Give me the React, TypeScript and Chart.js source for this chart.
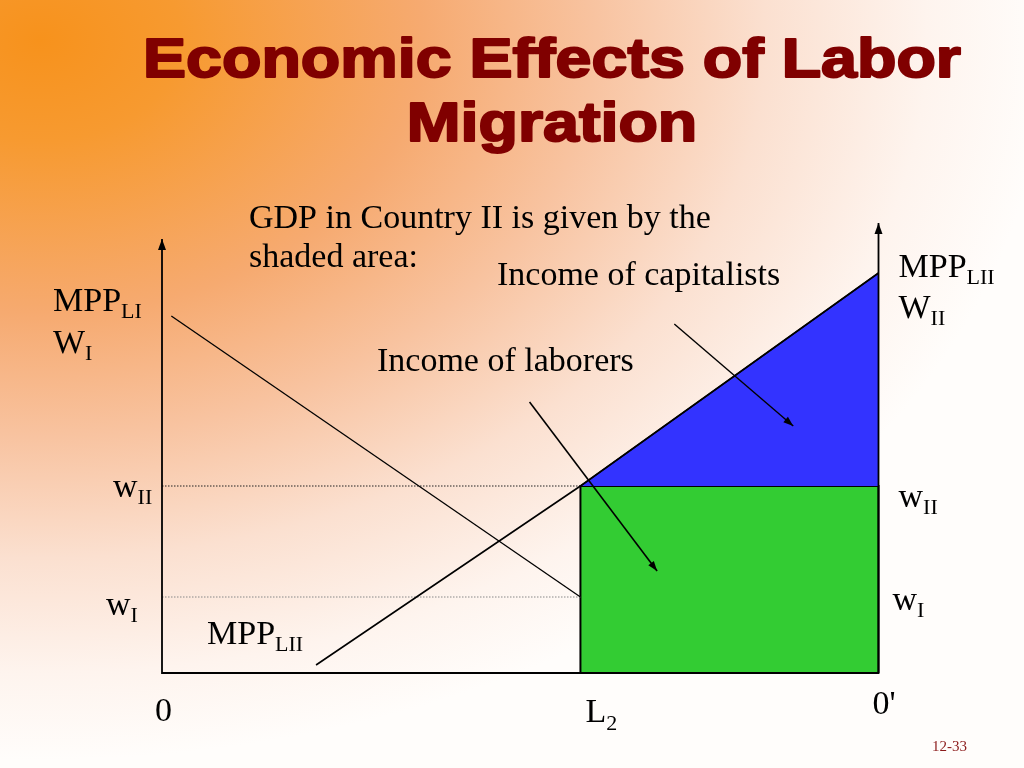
import React, { useEffect, useRef } from "react";
import { Chart, registerables } from "chart.js";

Chart.register(...registerables);

// ---- data (labor on x: 0 .. 0', wage / MPP on y) ----
const L2 = 58.4;
const wII = 46.75;
const wI = 19;
const mppLIx = [1.3, 58.4];
const mppLIy = [89.25, 19];
const mppLIIx = [21.5, 58.4, 100];
const mppLIIy = [2, 46.75, 100];
const axisTopLeft = 108.5;
const axisTopRight = 112.5;
const capArrowX = [71.5, 88.1];
const capArrowY = [87.25, 61.75];
const labArrowX = [51.3, 69.1];
const labArrowY = [67.75, 25.5];

const titleLines = ["Economic Effects of Labor", "Migration"];
const noteLines = ["GDP in Country II is given by the", "shaded area:"];
const capLabel = "Income of capitalists";
const labLabel = "Income of laborers";
const slideNo = "12-33";

const pts = (xs: number[], ys: number[]) => xs.map((x, i) => ({ x, y: ys[i] }));

const SERIF = '"Liberation Serif", "Times New Roman", serif';

function subText(ctx: CanvasRenderingContext2D, x: number, y: number, main: string, s: string, size = 34, subSize = 22, dy = 7) {
  ctx.font = `${size}px ${SERIF}`;
  ctx.fillText(main, x, y);
  const w = ctx.measureText(main).width;
  if (s) {
    ctx.font = `${subSize}px ${SERIF}`;
    ctx.fillText(s, x + w, y + dy);
  }
}

function arrowHead(ctx: CanvasRenderingContext2D, x0: number, y0: number, x1: number, y1: number, len = 11, half = 4) {
  const a = Math.atan2(y1 - y0, x1 - x0);
  ctx.beginPath();
  ctx.moveTo(x1, y1);
  ctx.lineTo(x1 - len * Math.cos(a) + half * Math.sin(a), y1 - len * Math.sin(a) - half * Math.cos(a));
  ctx.lineTo(x1 - len * Math.cos(a) - half * Math.sin(a), y1 - len * Math.sin(a) + half * Math.cos(a));
  ctx.closePath();
  ctx.fill();
}

const slidePlugin = {
  id: "slide",
  beforeDraw(chart: any) {
    const { ctx } = chart;
    ctx.save();
    ctx.fillStyle = "#FFFDFB";
    ctx.fillRect(0, 0, chart.width, chart.height);
    ctx.translate(40, 40);
    ctx.scale(1.4, 1);
    const g = ctx.createRadialGradient(0, 0, 0, 0, 0, 720);
    g.addColorStop(0, "#F7921C");
    g.addColorStop(0.14, "#F79A30");
    g.addColorStop(0.38, "#F6AA70");
    g.addColorStop(0.55, "#F8C3A0");
    g.addColorStop(0.72, "#FBE0D0");
    g.addColorStop(0.88, "#FEF4EE");
    g.addColorStop(1, "#FFFDFB");
    ctx.fillStyle = g;
    ctx.fillRect(-200, -200, 2000, 2000);
    ctx.restore();
  },
  afterDraw(chart: any) {
    const { ctx } = chart;
    const xs = chart.scales.x;
    const ys = chart.scales.y;
    const X = (v: number) => xs.getPixelForValue(v);
    const Y = (v: number) => ys.getPixelForValue(v);
    ctx.save();
    ctx.fillStyle = "#000";
    // axis arrowheads
    arrowHead(ctx, X(0), Y(0), X(0), Y(axisTopLeft), 11, 4);
    arrowHead(ctx, X(100), Y(0), X(100), Y(axisTopRight), 11, 4);
    // pointer arrowheads
    arrowHead(ctx, X(capArrowX[0]), Y(capArrowY[0]), X(capArrowX[1]), Y(capArrowY[1]), 10, 3.5);
    arrowHead(ctx, X(labArrowX[0]), Y(labArrowY[0]), X(labArrowX[1]), Y(labArrowY[1]), 10, 3.5);

    // title
    ctx.fillStyle = "#800000";
    ctx.strokeStyle = "#800000";
    ctx.lineJoin = "round";
    ctx.font = 'bold 55px "Liberation Sans", Arial, sans-serif';
    ctx.textAlign = "center";
    const w0 = ctx.measureText(titleLines[0]).width;
    const sx = 818 / w0;
    ctx.save();
    ctx.translate(552, 0);
    ctx.scale(sx, 1);
    ctx.lineWidth = 2;
    ctx.strokeText(titleLines[0], 0, 77);
    ctx.fillText(titleLines[0], 0, 77);
    ctx.strokeText(titleLines[1], 0, 141);
    ctx.fillText(titleLines[1], 0, 141);
    ctx.restore();

    ctx.textAlign = "left";
    ctx.fillStyle = "#000";
    ctx.font = `34px ${SERIF}`;
    ctx.fillText(noteLines[0], 249, 228);
    ctx.fillText(noteLines[1], 249, 267);
    ctx.fillText(capLabel, 497, 285);
    ctx.fillText(labLabel, 377, 371);

    // left axis labels
    subText(ctx, 53, 311, "MPP", "LI");
    subText(ctx, 53, 353, "W", "I");
    subText(ctx, X(0) - 49, Y(wII) + 11, "w", "II");
    subText(ctx, X(0) - 56, Y(wI) + 18, "w", "I");
    subText(ctx, 207, 644, "MPP", "LII");

    // right axis labels
    subText(ctx, X(100) + 20, 277, "MPP", "LII");
    subText(ctx, X(100) + 20, 318, "W", "II");
    subText(ctx, X(100) + 20, Y(wII) + 21, "w", "II");
    subText(ctx, X(100) + 14, Y(wI) + 13, "w", "I");

    // bottom labels
    subText(ctx, X(0) - 7, 721, "0", "");
    subText(ctx, X(L2) + 5, 722, "L", "2", 34, 22, 8);
    subText(ctx, X(100) - 6, 714, "0'", "");

    ctx.fillStyle = "#8B1A1A";
    ctx.font = `15px ${SERIF}`;
    ctx.fillText(slideNo, 932, 751);
    ctx.restore();
  },
};

export default function App() {
  const ref = useRef<HTMLCanvasElement>(null);
  useEffect(() => {
    if (!ref.current) return;
    const line = (data: any[], extra: any = {}) => ({
      type: "scatter",
      data,
      showLine: true,
      pointRadius: 0,
      pointHoverRadius: 0,
      borderColor: "#000",
      borderWidth: 1.5,
      fill: false,
      tension: 0,
      ...extra,
    });
    const chart = new Chart(ref.current, {
      type: "scatter",
      data: {
        datasets: [
          line(pts(capArrowX, capArrowY), { label: "capitalists pointer", borderWidth: 1.4 }),
          line(pts(labArrowX, labArrowY), { label: "laborers pointer", borderWidth: 1.6 }),
          line(pts(mppLIx, mppLIy), { label: "MPP LI", borderWidth: 1.3 }),
          line(pts(mppLIIx, mppLIIy), { label: "MPP LII", borderWidth: 1.6 }),
          line(
            [
              { x: 0, y: axisTopLeft },
              { x: 0, y: 0 },
              { x: 100, y: 0 },
              { x: 100, y: axisTopRight },
            ],
            { label: "axes", borderWidth: 1.8 }
          ),
          line([{ x: 0, y: wII }, { x: L2, y: wII }], { label: "wII", borderWidth: 1, borderDash: [1.5, 1.5], borderColor: "#222" }),
          line([{ x: 0, y: wI }, { x: L2, y: wI }], { label: "wI", borderWidth: 1, borderDash: [1.5, 1.5], borderColor: "#888" }),
          line([{ x: L2, y: wII }, { x: 100, y: mppLIIy[2] }], {
            label: "Income of capitalists",
            fill: { value: wII },
            backgroundColor: "#3333FF",
            borderWidth: 1.5,
          }),
          line(
            [
              { x: L2, y: 0 },
              { x: L2, y: wII },
              { x: 100, y: wII },
              { x: 100, y: 0 },
            ],
            { label: "Income of laborers", fill: "origin", backgroundColor: "#33CC33", borderWidth: 2 }
          ),
        ] as any,
      },
      options: {
        responsive: false,
        animation: false,
        devicePixelRatio: 1,
        layout: { padding: 0 },
        events: [],
        plugins: { legend: { display: false }, tooltip: { enabled: false }, title: { display: false } },
        scales: {
          x: { type: "linear", display: false, min: -162 / 7.165, max: (1024 - 162) / 7.165 },
          y: { type: "linear", display: false, min: (673 - 768) / 4, max: 673 / 4 },
        },
      } as any,
      plugins: [slidePlugin],
    });
    return () => chart.destroy();
  }, []);
  return (
    <div style={{ position: "absolute", left: 0, top: 0, width: 1024, height: 768 }}>
      <canvas ref={ref} width={1024} height={768} style={{ display: "block" }} />
    </div>
  );
}
